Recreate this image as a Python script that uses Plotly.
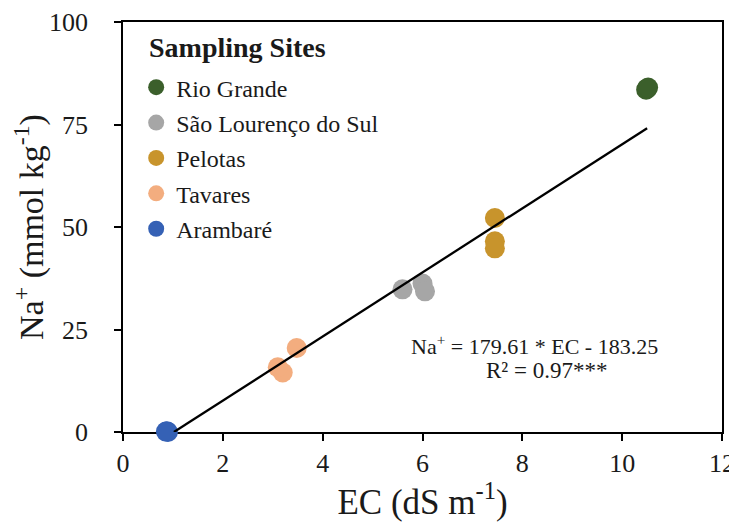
import plotly.graph_objects as go

# Data
sites = ["Rio Grande", "São Lourenço do Sul", "Pelotas", "Tavares", "Arambaré"]
colors = ["#3b5f2b", "#a6a6a6", "#c8942c", "#f3ad7f", "#3561b5"]
ec_rio = [10.5, 10.48, 10.52]
na_rio = [83.8, 83.5, 84.0]
ec_sls = [5.6, 6.0, 6.05]
na_sls = [34.8, 36.2, 34.3]
ec_pel = [7.45, 7.45, 7.45]
na_pel = [52.2, 46.5, 44.8]
ec_tav = [3.48, 3.2, 3.1]
na_tav = [20.5, 14.5, 15.8]
ec_ara = [0.88, 0.9, 0.86]
na_ara = [0.2, 0.0, 0.1]
fit_x = [1.02, 10.5]
fit_y = [0.0, 74.1]
x_ticks = [0, 2, 4, 6, 8, 10, 12]
y_ticks = [0, 25, 50, 75, 100]

xs = [ec_rio, ec_sls, ec_pel, ec_tav, ec_ara]
ys = [na_rio, na_sls, na_pel, na_tav, na_ara]

SERIF = "Liberation Serif"
fig = go.Figure()
for name, c, x, y in zip(sites, colors, xs, ys):
    fig.add_trace(go.Scatter(
        x=x, y=y, mode="markers", name=name, cliponaxis=False,
        marker=dict(size=20, color=c, line=dict(width=0)),
        legendgroup=name,
    ))
fig.add_trace(go.Scatter(
    x=fit_x, y=fit_y, mode="lines", line=dict(color="black", width=2.3),
    showlegend=False, hoverinfo="skip", cliponaxis=False,
))

# the page body adds an 8px offset; keep the page within the window
fig.update_layout(
    width=729, height=514,
    margin=dict(l=115, r=15, t=14, b=90, autoexpand=False),
    paper_bgcolor="white", plot_bgcolor="white",
    font=dict(family=SERIF, color="#1a1a1a"),
    showlegend=True,
    legend=dict(
        x=0.022, y=0.895, xanchor="left", yanchor="top",
        font=dict(size=24, family=SERIF),
        bgcolor="rgba(0,0,0,0)", traceorder="grouped", tracegroupgap=1.2,
    ),
    xaxis=dict(
        range=[0, 12], tickvals=x_ticks, automargin=False, layer="below traces",
        showgrid=False, zeroline=False,
        showline=True, linecolor="black", linewidth=1.5, mirror=True,
        ticks="outside", ticklen=7, tickwidth=1.5, tickcolor="black",
        tickfont=dict(size=26, family=SERIF),
        title=dict(text="EC (dS m<sup>-1</sup>)", font=dict(size=35, family=SERIF), standoff=18),
    ),
    yaxis=dict(
        range=[0, 100], tickvals=y_ticks, automargin=False, layer="below traces",
        showgrid=False, zeroline=False,
        showline=True, linecolor="black", linewidth=1.5, mirror=True,
        ticks="outside", ticklen=7, tickwidth=1.5, tickcolor="black",
        tickfont=dict(size=26, family=SERIF), ticklabelstandoff=21,
        title=dict(text="Na<sup>+</sup> (mmol kg<sup>-1</sup>)", font=dict(size=34, family=SERIF), standoff=8),
    ),
    annotations=[
        dict(x=0.04, y=0.939, xref="paper", yref="paper", text="<b>Sampling Sites</b>",
             showarrow=False, font=dict(size=28, family=SERIF), xanchor="left", yanchor="middle"),
        dict(x=8.24, y=21.3, xref="x", yref="y", text="Na<sup>+</sup> = 179.61 * EC - 183.25",
             showarrow=False, font=dict(size=22, family=SERIF), xanchor="center", yanchor="middle"),
        dict(x=8.48, y=15.0, xref="x", yref="y", text="R² = 0.97***",
             showarrow=False, font=dict(size=23, family=SERIF), xanchor="center", yanchor="middle"),
    ],
)

fig.write_html("out.html")
